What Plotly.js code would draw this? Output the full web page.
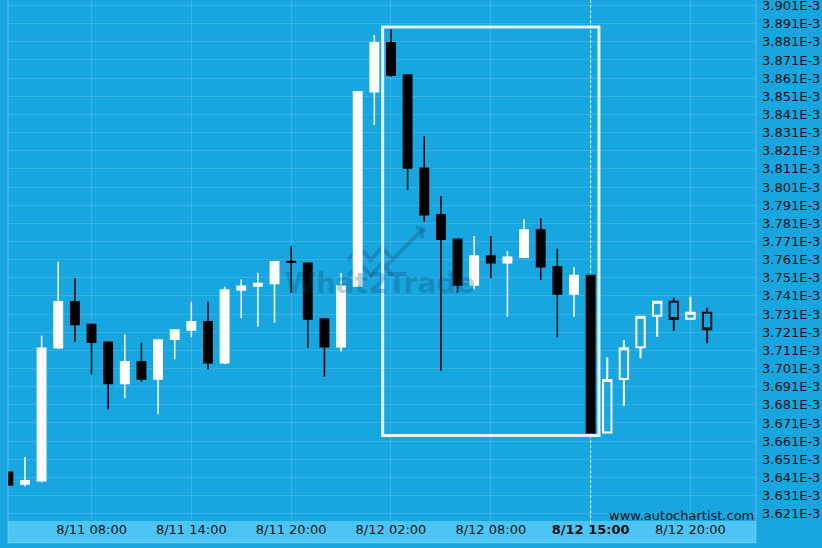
<!DOCTYPE html>
<html>
<head>
<meta charset="utf-8">
<script src="https://cdn.plot.ly/plotly-3.0.1.min.js"></script>
<style>
  html, body { margin: 0; padding: 0; background: #17a5e0; }
  #chart { width: 822px; height: 548px; }
</style>
</head>
<body>
<div id="chart"></div>
<script>
// Hourly candle times
const times = [
  "8/11 03:00","8/11 04:00","8/11 05:00","8/11 06:00","8/11 07:00","8/11 08:00",
  "8/11 09:00","8/11 10:00","8/11 11:00","8/11 12:00","8/11 13:00","8/11 14:00",
  "8/11 15:00","8/11 16:00","8/11 17:00","8/11 18:00","8/11 19:00","8/11 20:00",
  "8/11 21:00","8/11 22:00","8/11 23:00","8/12 00:00","8/12 01:00","8/12 02:00",
  "8/12 03:00","8/12 04:00","8/12 05:00","8/12 06:00","8/12 07:00","8/12 08:00",
  "8/12 09:00","8/12 10:00","8/12 11:00","8/12 12:00","8/12 13:00","8/12 14:00",
  "8/12 15:00","8/12 16:00","8/12 17:00","8/12 18:00","8/12 19:00","8/12 20:00",
  "8/12 21:00"
];
// Prices in units of 1E-3
const opens = [
  3.6438,3.6374,3.6392,3.7125,3.7378,3.7253,3.7154,3.6928,3.7047,3.6952,
  3.7171,3.7222,3.7268,3.7042,3.7443,3.7465,3.7479,3.7600,3.7590,3.7283,
  3.7130,3.7465,3.8535,3.8805,3.8627,3.8113,3.7857,3.7722,3.7470,3.7630,
  3.7593,3.7623,3.7773,3.7571,3.7420,3.7523,3.6658,3.6952,3.7127,3.7301,
  3.7378,3.7284,3.7317
];
const highs = [
  3.6440,3.6523,3.7191,3.7598,3.7507,3.7258,3.7156,3.7198,3.7152,3.7170,
  3.7228,3.7378,3.7378,3.7461,3.7501,3.7538,3.7600,3.7685,3.7592,3.7285,
  3.7535,3.8537,3.8847,3.8879,3.8629,3.8291,3.7960,3.7724,3.7740,3.7740,
  3.7657,3.7832,3.7838,3.7670,3.7568,3.7525,3.7070,3.7167,3.7297,3.7380,
  3.7400,3.7406,3.7345
];
const lows = [
  3.6366,3.6361,3.6383,3.7117,3.7158,3.6978,3.6785,3.6846,3.6937,3.6758,
  3.7061,3.7182,3.7006,3.7033,3.7287,3.7240,3.7262,3.7428,3.7125,3.6965,
  3.7103,3.7463,3.8352,3.8618,3.7993,3.7819,3.6998,3.7428,3.7446,3.7507,
  3.7295,3.7617,3.7498,3.7182,3.7295,3.6654,3.6656,3.6803,3.7066,3.7185,
  3.7217,3.7282,3.7149
];
const closes = [
  3.6368,3.6391,3.7121,3.7378,3.7253,3.7154,3.6928,3.7047,3.6952,3.7167,
  3.7222,3.7268,3.7042,3.7443,3.7463,3.7479,3.7598,3.7596,3.7283,3.7130,
  3.7465,3.8535,3.8805,3.8627,3.8115,3.7857,3.7722,3.7470,3.7630,3.7593,
  3.7623,3.7773,3.7571,3.7420,3.7523,3.6656,3.6947,3.7121,3.7295,3.7378,
  3.7283,3.7317,3.7226
];
const patternEndIndex = 35;          // last candle of the identified pattern
const patternStartIndex = 23;        // first candle of the pattern
const patternTop = 3.8892;
const patternBottom = 3.6641;

const xTickVals = ["8/11 08:00","8/11 14:00","8/11 20:00","8/12 02:00","8/12 08:00","8/12 14:00","8/12 20:00"];
const xTickText = ["8/11 08:00","8/11 14:00","8/11 20:00","8/12 02:00","8/12 08:00","<b>8/12 15:00</b>","8/12 20:00"];
const yTickText = [
  "3.901E-3","3.891E-3","3.881E-3","3.871E-3","3.861E-3","3.851E-3","3.841E-3","3.831E-3",
  "3.821E-3","3.811E-3","3.801E-3","3.791E-3","3.781E-3","3.771E-3","3.761E-3","3.751E-3",
  "3.741E-3","3.731E-3","3.721E-3","3.711E-3","3.701E-3","3.691E-3","3.681E-3","3.671E-3",
  "3.661E-3","3.651E-3","3.641E-3","3.631E-3","3.621E-3"
];
const yTickVals = yTickText.map(t => parseFloat(t.replace("E-3", "")));

const n = patternEndIndex + 1;
const histTrace = {
  type: "candlestick",
  x: times.slice(0, n), open: opens.slice(0, n), high: highs.slice(0, n),
  low: lows.slice(0, n), close: closes.slice(0, n),
  increasing: { line: { color: "#ffffff", width: 1.5 }, fillcolor: "#ffffff" },
  decreasing: { line: { color: "#000000", width: 1.5 }, fillcolor: "#000000" },
  whiskerwidth: 0, hoverinfo: "skip", showlegend: false
};
const afterTrace = {
  type: "candlestick",
  x: times.slice(n), open: opens.slice(n), high: highs.slice(n),
  low: lows.slice(n), close: closes.slice(n),
  increasing: { line: { color: "#ffffff", width: 2 }, fillcolor: "rgba(0,0,0,0)" },
  decreasing: { line: { color: "#06121c", width: 2 }, fillcolor: "rgba(0,0,0,0)" },
  whiskerwidth: 0, hoverinfo: "skip", showlegend: false
};

const bg = "#18a6e0";
const grid = "rgba(255,255,255,0.13)";
const layout = {
  width: 822, height: 548,
  margin: { l: 8, r: 66, t: 0, b: 28, pad: 0 },
  paper_bgcolor: bg, plot_bgcolor: bg,
  font: { family: "DejaVu Sans", size: 13, color: "#111" },
  showlegend: false,
  boxgap: 0.28,
  xaxis: {
    type: "category", range: [-0.02, 44.94],
    rangeslider: { visible: false },
    tickmode: "array", tickvals: xTickVals, ticktext: xTickText,
    ticks: "", showgrid: true, gridcolor: grid, gridwidth: 1,
    zeroline: false, showline: false, fixedrange: true,
    tickfont: { family: "DejaVu Sans", size: 13, color: "#111" }
  },
  yaxis: {
    side: "right", range: [3.61753, 3.90403],
    tickmode: "array", tickvals: yTickVals, ticktext: yTickText,
    ticks: "", ticklabelstandoff: 5, ticklabeloverflow: "allow",
    showgrid: true, gridcolor: grid, gridwidth: 1,
    zeroline: false, showline: false, fixedrange: true,
    tickfont: { family: "DejaVu Sans", size: 13, color: "#111" }
  },
  shapes: [
    // x-axis label strip
    { type: "rect", xref: "paper", yref: "paper", x0: 0, x1: 1, y0: -0.0442, y1: -0.0019,
      fillcolor: "#4cc5f4", line: { width: 0 }, layer: "below" },
    // plot frame
    { type: "rect", xref: "paper", yref: "paper", x0: 0, x1: 1, y0: -0.0442, y1: 1.01,
      fillcolor: "rgba(0,0,0,0)", line: { color: "rgba(255,255,255,0.25)", width: 1 } },
    // watermark logo
    { type: "path", xref: "paper", yref: "paper",
      path: "M 0.455,0.5 L 0.47,0.524 L 0.485,0.5 L 0.5,0.524 L 0.515,0.5 M 0.455,0.47 L 0.47,0.494 L 0.485,0.47 L 0.5,0.494 L 0.515,0.47 M 0.5,0.48 L 0.555,0.56",
      line: { color: "rgba(10,60,100,0.25)", width: 4 }, layer: "below" },
    { type: "path", xref: "paper", yref: "paper",
      path: "M 0.545,0.562 L 0.555,0.56 L 0.553,0.542",
      line: { color: "rgba(10,60,100,0.25)", width: 4 }, layer: "below" },
    // pattern end dashed line (behind candles)
    { type: "line", xref: "x", yref: "paper", x0: times[patternEndIndex], x1: times[patternEndIndex],
      y0: -0.006, y1: 1, layer: "below", line: { color: "rgba(255,255,255,0.85)", width: 1, dash: "3px,2px" } },
    // pattern box
    { type: "rect", xref: "x", yref: "y", x0: patternStartIndex - 0.5, x1: patternEndIndex + 0.5,
      y0: patternBottom, y1: patternTop,
      line: { color: "rgba(235,248,255,0.95)", width: 3 }, fillcolor: "rgba(0,0,0,0)" }
  ],
  annotations: [
    { text: "What2Trade", xref: "paper", yref: "paper", x: 0.497, y: 0.454,
      xanchor: "center", yanchor: "middle", showarrow: false,
      font: { family: "DejaVu Sans", size: 28, color: "rgba(10,60,100,0.25)", weight: "bold" } },
    { text: "www.autochartist.com", xref: "paper", yref: "paper", x: 1, y: (520 - 515.7) / 520,
      xanchor: "right", yanchor: "middle", showarrow: false,
      font: { family: "DejaVu Sans", size: 13, color: "#111" } }
  ]
};

Plotly.newPlot("chart", [histTrace, afterTrace], layout, { staticPlot: true, displayModeBar: false });
</script>
</body>
</html>
